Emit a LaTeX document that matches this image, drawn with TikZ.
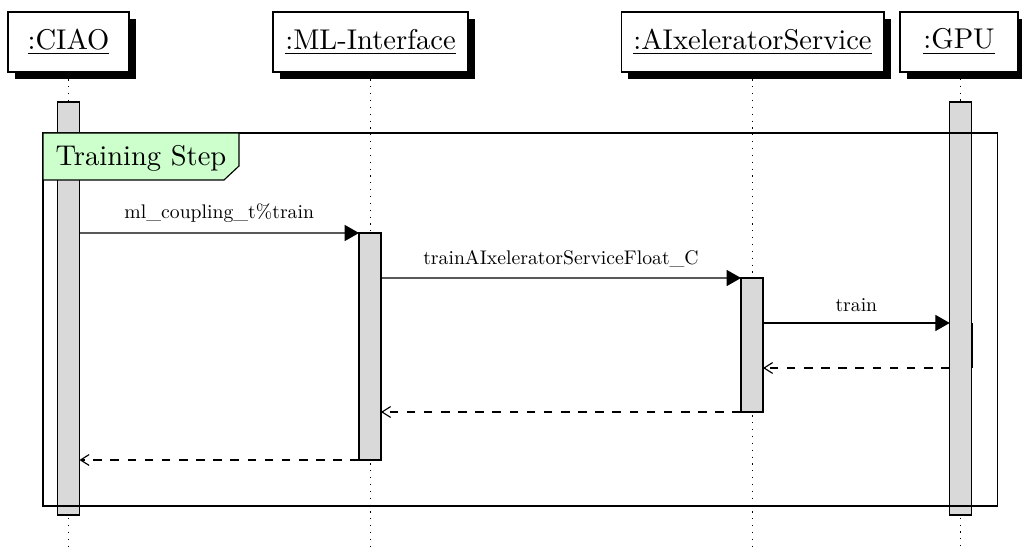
\documentclass[tikz,border=0pt]{standalone}
\usepackage{fontspec}
\usetikzlibrary{arrows.meta,shadows,calc}
\newfontfamily\msgfont{lmroman10-regular.otf}
\definecolor{framegreen}{RGB}{204,255,204}
\begin{document}
\begin{tikzpicture}[x=0.35pt,y=-0.35pt,line width=0.4pt,
  thread/.style={draw,fill=white,inner sep=0pt,minimum height=21pt,
    drop shadow={shadow xshift=2.45pt,shadow yshift=-2.45pt,fill=black,opacity=1}},
  lifeline/.style={dotted},
  actbar/.style={draw,fill=black!15,inner sep=0pt,outer sep=0pt,minimum width=7.7pt},
  callmsg/.style={-{Triangle[length=5pt,width=5.6pt]}},
  retmsg/.style={dashed,-{Straight Barb[length=3pt,width=3.8pt]}},
  msglabel/.style={above,font=\msgfont\fontsize{6.9}{8}\selectfont,inner sep=3.6pt}
]
\useasboundingbox (0,0) rectangle (1022,550);

% object headers
\node[thread,minimum width=42.35pt] (ciao) at (68.5,42) {\underline{:CIAO}};
\node[thread,minimum width=68.25pt] (ml) at (370.5,42) {\underline{:ML-Interface}};
\node[thread,minimum width=92pt] (axs) at (752.5,42) {\underline{:AIxeleratorService}};
\node[thread,minimum width=41.3pt] (gpu) at (959,42) {\underline{:GPU}};

% lifelines
\coordinate (lend) at (0,548);
\draw[lifeline] (ciao.south) -- (ciao.south |- lend);
\draw[lifeline] (ml.south) -- (ml.south |- lend);
\draw[lifeline] (axs.south) -- (axs.south |- lend);
\draw[lifeline] (960.7,72) -- (960.7,548);

% activation bars
\node[actbar,minimum height=144.55pt] (ciaoBar) at (68.5,308.5) {};
\node[actbar,minimum height=144.55pt] (gpuBar) at (960.7,308.5) {};
\node[actbar,minimum height=79.45pt] (mlBar) at (370,346.5) {};
\node[actbar,minimum height=46.9pt] (axsBar) at (752,345) {};
\coordinate (nestTop) at (972.2,323);
\coordinate (nestBot) at (972.2,368);
\draw (nestTop) -- (nestBot);

% combined fragment
\draw (43,133) rectangle (997.5,506);
\draw[fill=framegreen] (43,133) -- (239,133) -- (239,166) -- (224,180) -- (43,180) -- cycle;
\node[anchor=base west,inner sep=0pt] (fraglabel) at (55,166) {Training Step};

% messages
\coordinate (m1) at (0,233);
\coordinate (m2) at (0,278);
\coordinate (m3) at (0,323);
\coordinate (m4) at (0,368);
\draw[callmsg] (ciaoBar.east |- m1) -- node[msglabel] (l1) {ml\_coupling\_t\%train} (mlBar.north west);
\draw[callmsg] (mlBar.east |- m2) -- node[msglabel] (l2) {trainAIxeleratorServiceFloat\_C} (axsBar.north west);
\draw[callmsg] (axsBar.east |- m3) -- node[msglabel] (l3) {train} (gpuBar.west |- m3);
\draw[retmsg] (gpuBar.west |- m4) -- (axsBar.east |- m4);
\draw[retmsg] (axsBar.south west) -- (mlBar.east |- axsBar.south);
\draw[retmsg] (mlBar.south west) -- (ciaoBar.east |- mlBar.south);
\end{tikzpicture}
\end{document}
